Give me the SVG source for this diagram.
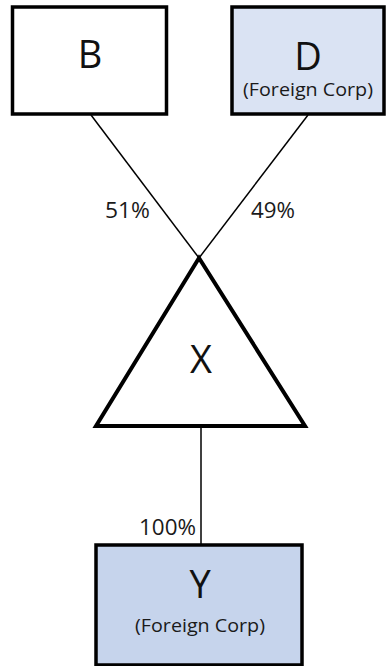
<svg xmlns="http://www.w3.org/2000/svg" width="386" height="666" viewBox="0 0 386 666">
<style>
.box{stroke:#000;stroke-width:3.5}
.big{font-family:"Open Sans","Liberation Sans",sans-serif;font-size:38px;fill:#111;text-anchor:middle}
.sub{font-family:"Open Sans","Liberation Sans",sans-serif;font-size:18px;fill:#1a1a1a;text-anchor:middle}
.pct{font-family:"Open Sans","Liberation Sans",sans-serif;font-size:21px;fill:#1a1a1a}
.ln{stroke:#000;stroke-width:1.5;fill:none}
</style>
<rect width="386" height="666" fill="#fff"/>
<g id="connectors">
<line class="ln" x1="91" y1="115" x2="199" y2="258"/>
<line class="ln" x1="308" y1="115" x2="199" y2="258"/>
<line class="ln" x1="201" y1="427" x2="201" y2="544"/>
<text class="pct" x="105" y="218" textLength="45" lengthAdjust="spacingAndGlyphs">51%</text>
<text class="pct" x="251" y="218" textLength="44" lengthAdjust="spacingAndGlyphs">49%</text>
<text class="pct" x="139" y="535" textLength="57" lengthAdjust="spacingAndGlyphs">100%</text>
</g>
<g id="B">
<rect class="box" x="12.5" y="7" width="154" height="107" fill="#fff"/>
<text class="big" x="90" y="68">B</text>
</g>
<g id="D">
<rect class="box" x="232" y="7" width="152" height="107" fill="#dae3f3"/>
<text class="big" x="308" y="70">D</text>
<text class="sub" x="308" y="96" textLength="130" lengthAdjust="spacingAndGlyphs">(Foreign Corp)</text>
</g>
<g id="X">
<polygon points="199,258 96,426 305,426" fill="#fff" stroke="#000" stroke-width="4" stroke-linejoin="miter"/>
<text class="big" x="201" y="373">X</text>
</g>
<g id="Y">
<rect class="box" x="96" y="545" width="206" height="120" fill="#c6d4ec"/>
<text class="big" x="200" y="598">Y</text>
<text class="sub" x="200" y="632" textLength="130" lengthAdjust="spacingAndGlyphs">(Foreign Corp)</text>
</g>
</svg>
